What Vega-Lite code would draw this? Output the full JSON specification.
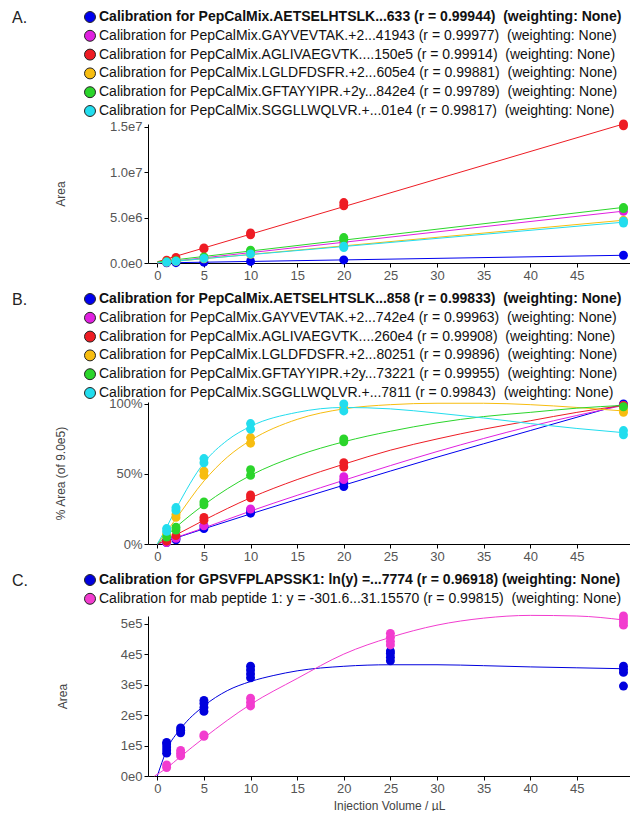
{
  "$schema": "https://vega.github.io/schema/vega-lite/v6.json",
  "background": "white",
  "padding": {"left": 12, "top": 10, "right": 0, "bottom": 0},
  "spacing": 10,
  "config": {
    "font": "Liberation Sans",
    "view": {"stroke": null},
    "axis": {"grid": false, "domainColor": "#000", "tickColor": "#000", "tickSize": 4, "labelColor": "#555", "labelFontSize": 13, "labelPadding": 2, "titleFontWeight": "normal", "titleColor": "#444", "titleFontSize": 12},
    "legend": {"symbolType": "circle", "symbolSize": 120, "labelFontSize": 14, "labelColor": "#111", "labelLimit": 800, "labelOffset": 2, "rowPadding": 2.8, "titleFontSize": 16, "titleFontWeight": "normal", "titleColor": "#222"}
  },
  "resolve": {"scale": {"color": "independent", "stroke": "independent"}},
  "vconcat": [
    {
      "width": 482, "height": 139,
      "data": {"values": [
        {"s":"A1","x":1,"y":18000},{"s":"A1","x":2,"y":35000},{"s":"A1","x":5,"y":90000},{"s":"A1","x":10,"y":170000},{"s":"A1","x":20,"y":340000},{"s":"A1","x":50,"y":850000},
        {"s":"A2","x":1,"y":110000},{"s":"A2","x":2,"y":230000},{"s":"A2","x":5,"y":560000},{"s":"A2","x":10,"y":1150000},{"s":"A2","x":20,"y":2300000},{"s":"A2","x":50,"y":5700000},
        {"s":"A3","x":1,"y":310000},{"s":"A3","x":2,"y":610000},{"s":"A3","x":5,"y":1550000},{"s":"A3","x":5,"y":1650000},{"s":"A3","x":10,"y":3100000},{"s":"A3","x":10,"y":3300000},{"s":"A3","x":20,"y":6300000},{"s":"A3","x":20,"y":6650000},{"s":"A3","x":50,"y":15100000},{"s":"A3","x":50,"y":15300000},
        {"s":"A4","x":1,"y":95000},{"s":"A4","x":2,"y":190000},{"s":"A4","x":5,"y":470000},{"s":"A4","x":10,"y":950000},{"s":"A4","x":20,"y":1900000},{"s":"A4","x":50,"y":4700000},
        {"s":"A5","x":1,"y":130000},{"s":"A5","x":2,"y":260000},{"s":"A5","x":5,"y":660000},{"s":"A5","x":10,"y":1300000},{"s":"A5","x":10,"y":1400000},{"s":"A5","x":20,"y":2600000},{"s":"A5","x":20,"y":2800000},{"s":"A5","x":50,"y":6000000},{"s":"A5","x":50,"y":6100000},
        {"s":"A6","x":1,"y":100000},{"s":"A6","x":2,"y":200000},{"s":"A6","x":5,"y":500000},{"s":"A6","x":10,"y":1000000},{"s":"A6","x":20,"y":1700000},{"s":"A6","x":20,"y":1850000},{"s":"A6","x":50,"y":4400000},{"s":"A6","x":50,"y":4600000}
      ]},
      "encoding": {
        "x": {"field": "x", "type": "quantitative", "scale": {"domain": [-1, 50.7], "nice": false, "zero": false}, "axis": {"values": [0,5,10,15,20,25,30,35,40,45], "title": null}},
        "y": {"field": "y", "type": "quantitative", "scale": {"domain": [0, 15300000], "nice": false}, "axis": {"values": [0,5000000,10000000,15000000], "labelExpr": "replace(format(datum.value,'.1e'),'+','')", "title": "Area", "titlePadding": 42}}
      },
      "layer": [
        {
          "transform": [{"regression": "y", "on": "x", "groupby": ["s"], "extent": [0, 50]}],
          "mark": {"type": "line", "strokeWidth": 1},
          "encoding": {"stroke": {"field": "s", "type": "nominal", "scale": {"range": ["#0000ee","#e020e0","#ee1c24","#f7bd10","#2bd52b","#22ddee"]}, "legend": null}}
        },
        {
          "mark": {"type": "point", "filled": true, "size": 80, "opacity": 1},
          "encoding": {"color": {"field": "s", "type": "nominal", "scale": {"range": ["#0000ee","#e020e0","#ee1c24","#f7bd10","#2bd52b","#22ddee"]},
            "legend": {"title": "A.", "orient": "none", "legendX": -136, "legendY": -114, "titleOrient": "left", "titlePadding": 55, "titleAnchor": "start", "titleBaseline": "top", "symbolStrokeWidth": 1, "symbolStrokeColor": "#222",
              "labelFontWeight": {"expr": "datum.value === 'A1' ? 'bold' : 'normal'"},
              "labelExpr": "['Calibration for PepCalMix.AETSELHTSLK...633 (r = 0.99944) \u00a0(weighting: None)','Calibration for PepCalMix.GAYVEVTAK.+2...41943 (r = 0.99977) \u00a0(weighting: None)','Calibration for PepCalMix.AGLIVAEGVTK....150e5 (r = 0.99914) \u00a0(weighting: None)','Calibration for PepCalMix.LGLDFDSFR.+2...605e4 (r = 0.99881) \u00a0(weighting: None)','Calibration for PepCalMix.GFTAYYIPR.+2y...842e4 (r = 0.99789) \u00a0(weighting: None)','Calibration for PepCalMix.SGGLLWQLVR.+...01e4 (r = 0.99817) \u00a0(weighting: None)'][indexof(['A1','A2','A3','A4','A5','A6'], datum.value)]"}}}
        }
      ]
    },
    {
      "width": 482, "height": 142,
      "data": {"values": [
        {"k":"p","s":"B1","x":1,"y":1},{"k":"p","s":"B1","x":1,"y":2},{"k":"p","s":"B1","x":2,"y":3},{"k":"p","s":"B1","x":2,"y":4.5},{"k":"p","s":"B1","x":5,"y":11},{"k":"p","s":"B1","x":5,"y":13},{"k":"p","s":"B1","x":10,"y":22},{"k":"p","s":"B1","x":10,"y":24},{"k":"p","s":"B1","x":20,"y":41},{"k":"p","s":"B1","x":20,"y":44},{"k":"p","s":"B1","x":50,"y":100},
        {"k":"p","s":"B2","x":1,"y":1},{"k":"p","s":"B2","x":2,"y":4},{"k":"p","s":"B2","x":5,"y":13},{"k":"p","s":"B2","x":10,"y":25},{"k":"p","s":"B2","x":20,"y":46},{"k":"p","s":"B2","x":20,"y":48},{"k":"p","s":"B2","x":50,"y":99},
        {"k":"p","s":"B3","x":1,"y":2},{"k":"p","s":"B3","x":2,"y":6},{"k":"p","s":"B3","x":5,"y":17},{"k":"p","s":"B3","x":5,"y":19},{"k":"p","s":"B3","x":10,"y":33},{"k":"p","s":"B3","x":10,"y":35},{"k":"p","s":"B3","x":20,"y":55},{"k":"p","s":"B3","x":20,"y":58},{"k":"p","s":"B3","x":50,"y":99},
        {"k":"p","s":"B4","x":1,"y":7},{"k":"p","s":"B4","x":2,"y":19},{"k":"p","s":"B4","x":2,"y":21},{"k":"p","s":"B4","x":5,"y":49},{"k":"p","s":"B4","x":5,"y":52},{"k":"p","s":"B4","x":10,"y":72},{"k":"p","s":"B4","x":10,"y":76},{"k":"p","s":"B4","x":20,"y":97},{"k":"p","s":"B4","x":50,"y":94},{"k":"p","s":"B4","x":50,"y":96},
        {"k":"p","s":"B5","x":1,"y":5},{"k":"p","s":"B5","x":2,"y":10},{"k":"p","s":"B5","x":2,"y":12},{"k":"p","s":"B5","x":5,"y":28},{"k":"p","s":"B5","x":5,"y":30},{"k":"p","s":"B5","x":10,"y":49},{"k":"p","s":"B5","x":10,"y":53},{"k":"p","s":"B5","x":20,"y":73},{"k":"p","s":"B5","x":20,"y":75},{"k":"p","s":"B5","x":50,"y":98},
        {"k":"p","s":"B6","x":1,"y":9},{"k":"p","s":"B6","x":1,"y":11},{"k":"p","s":"B6","x":2,"y":24},{"k":"p","s":"B6","x":2,"y":26},{"k":"p","s":"B6","x":5,"y":58},{"k":"p","s":"B6","x":5,"y":61},{"k":"p","s":"B6","x":10,"y":82},{"k":"p","s":"B6","x":10,"y":86},{"k":"p","s":"B6","x":20,"y":95},{"k":"p","s":"B6","x":20,"y":100},{"k":"p","s":"B6","x":50,"y":78},{"k":"p","s":"B6","x":50,"y":81},
        {"k":"c","s":"B1","x":0,"y":0},{"k":"c","s":"B1","x":10,"y":21.5},{"k":"c","s":"B1","x":20,"y":42},{"k":"c","s":"B1","x":30,"y":62},{"k":"c","s":"B1","x":40,"y":81},{"k":"c","s":"B1","x":50,"y":100},
        {"k":"c","s":"B2","x":0,"y":0},{"k":"c","s":"B2","x":5,"y":11.5},{"k":"c","s":"B2","x":10,"y":23.5},{"k":"c","s":"B2","x":20,"y":45.5},{"k":"c","s":"B2","x":30,"y":66},{"k":"c","s":"B2","x":40,"y":84},{"k":"c","s":"B2","x":50,"y":99},
        {"k":"c","s":"B3","x":0,"y":0},{"k":"c","s":"B3","x":2,"y":6.5},{"k":"c","s":"B3","x":5,"y":17},{"k":"c","s":"B3","x":10,"y":33},{"k":"c","s":"B3","x":15,"y":46},{"k":"c","s":"B3","x":20,"y":57},{"k":"c","s":"B3","x":25,"y":67},{"k":"c","s":"B3","x":30,"y":75},{"k":"c","s":"B3","x":35,"y":82},{"k":"c","s":"B3","x":40,"y":88},{"k":"c","s":"B3","x":45,"y":94},{"k":"c","s":"B3","x":50,"y":99},
        {"k":"c","s":"B4","x":0,"y":0},{"k":"c","s":"B4","x":1,"y":9},{"k":"c","s":"B4","x":2,"y":18},{"k":"c","s":"B4","x":5,"y":45},{"k":"c","s":"B4","x":7.5,"y":62},{"k":"c","s":"B4","x":10,"y":74},{"k":"c","s":"B4","x":15,"y":89},{"k":"c","s":"B4","x":20,"y":96.5},{"k":"c","s":"B4","x":25,"y":99.5},{"k":"c","s":"B4","x":30,"y":100.5},{"k":"c","s":"B4","x":35,"y":100.5},{"k":"c","s":"B4","x":40,"y":99.5},{"k":"c","s":"B4","x":45,"y":97.5},{"k":"c","s":"B4","x":50,"y":95},
        {"k":"c","s":"B5","x":0,"y":0},{"k":"c","s":"B5","x":1,"y":6},{"k":"c","s":"B5","x":2,"y":12},{"k":"c","s":"B5","x":5,"y":28},{"k":"c","s":"B5","x":10,"y":49},{"k":"c","s":"B5","x":15,"y":63},{"k":"c","s":"B5","x":20,"y":73},{"k":"c","s":"B5","x":25,"y":80.5},{"k":"c","s":"B5","x":30,"y":86.5},{"k":"c","s":"B5","x":35,"y":91},{"k":"c","s":"B5","x":40,"y":94},{"k":"c","s":"B5","x":45,"y":97},{"k":"c","s":"B5","x":50,"y":99},
        {"k":"c","s":"B6","x":0,"y":0},{"k":"c","s":"B6","x":1,"y":12},{"k":"c","s":"B6","x":2,"y":25},{"k":"c","s":"B6","x":5,"y":58},{"k":"c","s":"B6","x":7.5,"y":74},{"k":"c","s":"B6","x":10,"y":84},{"k":"c","s":"B6","x":15,"y":94},{"k":"c","s":"B6","x":20,"y":97.5},{"k":"c","s":"B6","x":25,"y":96.5},{"k":"c","s":"B6","x":30,"y":93.5},{"k":"c","s":"B6","x":35,"y":90},{"k":"c","s":"B6","x":40,"y":86},{"k":"c","s":"B6","x":45,"y":82.5},{"k":"c","s":"B6","x":50,"y":79.5}
      ]},
      "encoding": {
        "x": {"field": "x", "type": "quantitative", "scale": {"domain": [-1, 50.7], "nice": false, "zero": false}, "axis": {"values": [0,5,10,15,20,25,30,35,40,45], "title": null}},
        "y": {"field": "y", "type": "quantitative", "scale": {"domain": [0, 101.4], "nice": false}, "axis": {"values": [0,50,100], "labelExpr": "datum.value + '%'", "title": "% Area (of 9.0e5)", "titlePadding": 41}}
      },
      "layer": [
        {
          "transform": [{"filter": "datum.k === 'c'"}],
          "mark": {"type": "line", "strokeWidth": 1, "interpolate": "monotone"},
          "encoding": {"stroke": {"field": "s", "type": "nominal", "scale": {"range": ["#0000ee","#e020e0","#ee1c24","#f7bd10","#2bd52b","#22ddee"]}, "legend": null}}
        },
        {
          "transform": [{"filter": "datum.k === 'p'"}],
          "mark": {"type": "point", "filled": true, "size": 80, "opacity": 1},
          "encoding": {"color": {"field": "s", "type": "nominal", "scale": {"range": ["#0000ee","#e020e0","#ee1c24","#f7bd10","#2bd52b","#22ddee"]},
            "legend": {"title": "B.", "orient": "none", "legendX": -136, "legendY": -110, "titleOrient": "left", "titlePadding": 55, "titleAnchor": "start", "titleBaseline": "top", "symbolStrokeWidth": 1, "symbolStrokeColor": "#222",
              "labelFontWeight": {"expr": "datum.value === 'B1' ? 'bold' : 'normal'"},
              "labelExpr": "['Calibration for PepCalMix.AETSELHTSLK...858 (r = 0.99833) \u00a0(weighting: None)','Calibration for PepCalMix.GAYVEVTAK.+2...742e4 (r = 0.99963) \u00a0(weighting: None)','Calibration for PepCalMix.AGLIVAEGVTK....260e4 (r = 0.99908) \u00a0(weighting: None)','Calibration for PepCalMix.LGLDFDSFR.+2...80251 (r = 0.99896) \u00a0(weighting: None)','Calibration for PepCalMix.GFTAYYIPR.+2y...73221 (r = 0.99955) \u00a0(weighting: None)','Calibration for PepCalMix.SGGLLWQLVR.+...7811 (r = 0.99843) \u00a0(weighting: None)'][indexof(['B1','B2','B3','B4','B5','B6'], datum.value)]"}}}
        }
      ]
    },
    {
      "width": 482, "height": 160,
      "data": {"values": [
        {"k":"p","s":"C1","x":1,"y":75000},{"k":"p","s":"C1","x":1,"y":85000},{"k":"p","s":"C1","x":1,"y":95000},{"k":"p","s":"C1","x":1,"y":105000},{"k":"p","s":"C1","x":1,"y":110000},
        {"k":"p","s":"C1","x":2.5,"y":142000},{"k":"p","s":"C1","x":2.5,"y":150000},{"k":"p","s":"C1","x":2.5,"y":158000},
        {"k":"p","s":"C1","x":5,"y":212000},{"k":"p","s":"C1","x":5,"y":225000},{"k":"p","s":"C1","x":5,"y":238000},{"k":"p","s":"C1","x":5,"y":248000},
        {"k":"p","s":"C1","x":10,"y":322000},{"k":"p","s":"C1","x":10,"y":335000},{"k":"p","s":"C1","x":10,"y":348000},{"k":"p","s":"C1","x":10,"y":360000},
        {"k":"p","s":"C1","x":25,"y":378000},{"k":"p","s":"C1","x":25,"y":390000},{"k":"p","s":"C1","x":25,"y":402000},{"k":"p","s":"C1","x":25,"y":410000},
        {"k":"p","s":"C1","x":50,"y":295000},{"k":"p","s":"C1","x":50,"y":340000},{"k":"p","s":"C1","x":50,"y":350000},{"k":"p","s":"C1","x":50,"y":360000},
        {"k":"p","s":"C2","x":1,"y":28000},{"k":"p","s":"C2","x":1,"y":36000},
        {"k":"p","s":"C2","x":2.5,"y":66000},{"k":"p","s":"C2","x":2.5,"y":75000},{"k":"p","s":"C2","x":2.5,"y":84000},
        {"k":"p","s":"C2","x":5,"y":130000},{"k":"p","s":"C2","x":5,"y":135000},
        {"k":"p","s":"C2","x":10,"y":230000},{"k":"p","s":"C2","x":10,"y":242000},{"k":"p","s":"C2","x":10,"y":255000},
        {"k":"p","s":"C2","x":25,"y":430000},{"k":"p","s":"C2","x":25,"y":442000},{"k":"p","s":"C2","x":25,"y":455000},{"k":"p","s":"C2","x":25,"y":468000},
        {"k":"p","s":"C2","x":50,"y":495000},{"k":"p","s":"C2","x":50,"y":505000},{"k":"p","s":"C2","x":50,"y":515000},{"k":"p","s":"C2","x":50,"y":525000},
        {"k":"c","s":"C1","x":0,"y":0},{"k":"c","s":"C1","x":0.5,"y":45000},{"k":"c","s":"C1","x":1,"y":85000},{"k":"c","s":"C1","x":2.5,"y":155000},{"k":"c","s":"C1","x":5,"y":230000},{"k":"c","s":"C1","x":7.5,"y":280000},{"k":"c","s":"C1","x":10,"y":310000},{"k":"c","s":"C1","x":12.5,"y":330000},{"k":"c","s":"C1","x":15,"y":345000},{"k":"c","s":"C1","x":20,"y":360000},{"k":"c","s":"C1","x":25,"y":365000},{"k":"c","s":"C1","x":30,"y":365000},{"k":"c","s":"C1","x":35,"y":362000},{"k":"c","s":"C1","x":40,"y":358000},{"k":"c","s":"C1","x":45,"y":355000},{"k":"c","s":"C1","x":50,"y":352000},
        {"k":"c","s":"C2","x":-0.3,"y":0},{"k":"c","s":"C2","x":1,"y":26000},{"k":"c","s":"C2","x":2.5,"y":64000},{"k":"c","s":"C2","x":5,"y":125000},{"k":"c","s":"C2","x":10,"y":235000},{"k":"c","s":"C2","x":15,"y":320000},{"k":"c","s":"C2","x":20,"y":400000},{"k":"c","s":"C2","x":25,"y":455000},{"k":"c","s":"C2","x":30,"y":495000},{"k":"c","s":"C2","x":35,"y":518000},{"k":"c","s":"C2","x":40,"y":527000},{"k":"c","s":"C2","x":45,"y":525000},{"k":"c","s":"C2","x":50,"y":512000}
      ]},
      "encoding": {
        "x": {"field": "x", "type": "quantitative", "scale": {"domain": [-1, 50.7], "nice": false, "zero": false}, "axis": {"values": [0,5,10,15,20,25,30,35,40,45], "title": "Injection Volume / µL", "titlePadding": 5}},
        "y": {"field": "y", "type": "quantitative", "scale": {"domain": [0, 525000], "nice": false}, "axis": {"values": [0,100000,200000,300000,400000,500000], "labelExpr": "replace(format(datum.value,'.0e'),'+','')", "title": "Area", "titlePadding": 51}}
      },
      "layer": [
        {
          "transform": [{"filter": "datum.k === 'c'"}],
          "mark": {"type": "line", "strokeWidth": 1, "interpolate": "monotone"},
          "encoding": {"stroke": {"field": "s", "type": "nominal", "scale": {"range": ["#0000dd","#f23ccf"]}, "legend": null}}
        },
        {
          "transform": [{"filter": "datum.k === 'p'"}],
          "mark": {"type": "point", "filled": true, "size": 80, "opacity": 1},
          "encoding": {"color": {"field": "s", "type": "nominal", "scale": {"range": ["#0000dd","#f23ccf"]},
            "legend": {"title": "C.", "orient": "none", "legendX": -136, "legendY": -43, "titleOrient": "left", "titlePadding": 55, "titleAnchor": "start", "titleBaseline": "top", "symbolStrokeWidth": 1, "symbolStrokeColor": "#222",
              "labelFontWeight": {"expr": "datum.value === 'C1' ? 'bold' : 'normal'"},
              "labelExpr": "['Calibration for GPSVFPLAPSSK1: ln(y) =...7774 (r = 0.96918) (weighting: None)','Calibration for mab peptide 1: y = -301.6...31.15570 (r = 0.99815) \u00a0(weighting: None)'][indexof(['C1','C2'], datum.value)]"}}}
        }
      ]
    }
  ]
}
